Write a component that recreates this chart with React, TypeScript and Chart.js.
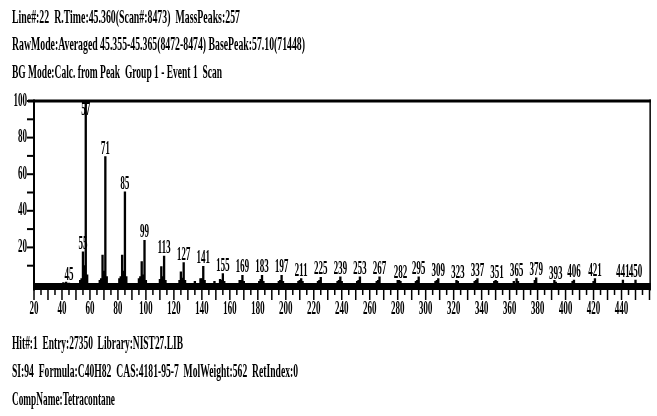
import React, { useEffect, useLayoutEffect, useRef } from "react";
import { Chart, registerables } from "chart.js";

Chart.register(...registerables);

// ---------- content ----------
const headerLines = [
  "Line#:22  R.Time:45.360(Scan#:8473)  MassPeaks:257",
  "RawMode:Averaged 45.355-45.365(8472-8474) BasePeak:57.10(71448)",
  "BG Mode:Calc. from Peak  Group 1 - Event 1  Scan",
];
const footerLines = [
  "Hit#:1  Entry:27350  Library:NIST27.LIB",
  "SI:94  Formula:C40H82  CAS:4181-95-7  MolWeight:562  RetIndex:0",
  "CompName:Tetracontane",
];

// m/z values and relative intensities (%)
const massValues = [
  41, 43, 45, 53, 54, 55, 56, 57, 58,
  67, 68, 69, 70, 71, 72,
  81, 82, 83, 84, 85, 86,
  95, 96, 97, 98, 99, 100,
  110, 111, 112, 113, 114,
  124, 125, 126, 127, 128, 135,
  139, 140, 141, 142, 149,
  153, 154, 155, 156,
  167, 168, 169, 170,
  181, 182, 183, 184,
  195, 196, 197, 198,
  209, 210, 211, 212,
  223, 224, 225,
  237, 238, 239, 240,
  251, 252, 253,
  265, 266, 267,
  280, 281, 282,
  293, 294, 295,
  307, 308, 309,
  322, 323,
  335, 336, 337,
  349, 350, 351,
  363, 365, 366,
  378, 379,
  392, 393,
  405, 406,
  420, 421,
  441, 450,
];
const intensityValues = [
  0.8, 1.0, 0.5, 2, 3, 17.6, 10, 100, 5,
  2, 3, 15.8, 7, 69.6, 4,
  3, 4, 15.8, 7, 50.4, 4,
  3, 4, 12.2, 5, 23.8, 2,
  2.5, 9.5, 4, 15.3, 2,
  2, 6.7, 3.3, 11.7, 2, 1.5,
  3, 3, 9.6, 2, 1.5,
  2.5, 2, 5.7, 1.5,
  2, 2, 4.8, 1.5,
  1.5, 2.5, 4.8, 1.5,
  1.5, 2, 4.8, 1.5,
  1.5, 2, 3.0, 1.5,
  1.5, 2, 3.6,
  1.5, 2, 3.9, 1.5,
  1.5, 2, 3.9,
  1.5, 2, 3.9,
  2, 2, 1.5,
  1.5, 2, 3.9,
  1.5, 2, 3.0,
  2, 1.5,
  1.5, 2, 3.0,
  1.5, 2, 1.5,
  1.5, 3.0, 1.5,
  2, 3.4,
  2, 1,
  1.5, 2.1,
  1.5, 3.0,
  2.1, 2.1,
];
const labeledMasses = [
  45, 55, 57, 71, 85, 99, 113, 127, 141, 155, 169, 183, 197, 211, 225, 239,
  253, 267, 282, 295, 309, 323, 337, 351, 365, 379, 393, 406, 421, 441, 450,
];

const X_MIN = 20;
const X_MAX = 461;
const X_LABEL_STEP = 20;
const X_LABEL_LAST = 440;
const Y_MIN = 0;
const Y_MAX = 100;

// ---------- layout / style ----------
const W = 657;
const H = 416;
const SQUEEZE = 2; // canvas drawn twice as wide, shown compressed (condensed type)
const FONT = '"Liberation Serif", "Times New Roman", serif';
const headerTops = [8, 35, 63];
const headerWidths = [228, 293, 210];
const footerTops = [334, 362, 390];
const footerWidths = [171, 286, 103];

function TextLine({ text, top, width }: { text: string; top: number; width: number }) {
  const ref = useRef<HTMLDivElement>(null);
  useLayoutEffect(() => {
    const el = ref.current;
    if (!el) return;
    el.style.transform = "none";
    const w = el.getBoundingClientRect().width;
    if (w > 0) el.style.transform = `scaleX(${width / w})`;
  }, [text, width]);
  return (
    <div
      ref={ref}
      style={{
        position: "absolute",
        left: 12,
        top,
        whiteSpace: "pre",
        font: `bold 18px ${FONT}`,
        lineHeight: "18px",
        transformOrigin: "0 0",
        color: "#000",
      }}
    >
      {text}
    </div>
  );
}

const framePlugin = {
  id: "specFrame",
  afterDatasetsDraw(chart: any) {
    const { ctx, chartArea, scales } = chart;
    const { left, right, top } = chartArea;
    const x = scales.x;
    const y = scales.y;
    const y0 = y.getPixelForValue(0);
    ctx.save();
    ctx.fillStyle = "#000";
    // thick base line
    ctx.fillRect(left, y0 - 1, right - left, 7);
    // top border
    ctx.fillRect(left - 12, top - 1.5, right - left + 12, 3);
    // left axis
    ctx.fillRect(left - 2, top - 1.5, 4, y0 - top + 8);
    // right border
    ctx.fillRect(right - 3, top - 1.5, 3, y0 - top + 8);
    // x ticks
    for (let v = Math.ceil(x.min / 5) * 5; v <= x.max; v += 5) {
      const px = x.getPixelForValue(v);
      const len = v % 10 === 0 ? 10 : 5;
      ctx.fillRect(px - 1.5, y0 + 6, 3, len);
    }
    // y ticks
    for (let v = 10; v <= y.max; v += 10) {
      const py = y.getPixelForValue(v);
      ctx.fillRect(left - 14, py - 1, 14, 2);
    }
    // peak labels
    const meta = chart.getDatasetMeta(0);
    ctx.font = `bold 18px ${FONT}`;
    ctx.textAlign = "center";
    ctx.textBaseline = "alphabetic";
    labeledMasses.forEach((m) => {
      const i = massValues.indexOf(m);
      const el = meta.data[i];
      if (!el) return;
      const yy = Math.max(el.y - 3, top + 14);
      ctx.fillText(String(m), el.x, yy);
    });
    ctx.restore();
  },
};

export default function App() {
  const canvasRef = useRef<HTMLCanvasElement>(null);

  useEffect(() => {
    const canvas = canvasRef.current;
    if (!canvas) return;
    const tickFont = { family: FONT, size: 18, weight: "bold" as const };
    const chart = new Chart(canvas, {
      type: "bar",
      data: {
        datasets: [
          {
            data: massValues.map((m, i) => ({ x: m, y: intensityValues[i] })),
            backgroundColor: "#000",
            borderWidth: 0,
            barThickness: 4,
          },
        ],
      },
      options: {
        responsive: false,
        devicePixelRatio: 1,
        animation: false,
        events: [],
        layout: { padding: { top: 101, bottom: 92, left: 0, right: 2 } },
        plugins: { legend: { display: false }, tooltip: { enabled: false }, title: { display: false } },
        scales: {
          x: {
            type: "linear",
            min: X_MIN,
            max: X_MAX,
            offset: false,
            grid: { display: false, drawTicks: false, offset: false },
            border: { display: false },
            ticks: {
              stepSize: X_LABEL_STEP,
              includeBounds: false,
              autoSkip: false,
              maxRotation: 0,
              padding: 15,
              color: "#000",
              font: tickFont,
              callback: (v: any) => (v <= X_LABEL_LAST ? String(v) : ""),
            },
            afterFit: (s: any) => {
              s.height = 40;
            },
          },
          y: {
            min: Y_MIN,
            max: Y_MAX,
            grid: { display: false, drawTicks: false },
            border: { display: false },
            ticks: {
              stepSize: 10,
              autoSkip: false,
              padding: 14,
              color: "#000",
              font: tickFont,
              callback: (v: any) => (v > 0 && v % 20 === 0 ? String(v) : ""),
            },
            afterFit: (s: any) => {
              s.width = 68;
            },
          },
        },
      } as any,
      plugins: [framePlugin],
    });
    return () => chart.destroy();
  }, []);

  return (
    <div
      style={{
        position: "absolute",
        left: 0,
        top: 0,
        width: W,
        height: H,
        overflow: "hidden",
        background: "#fff",
      }}
    >
      <canvas
        ref={canvasRef}
        width={W * SQUEEZE}
        height={H}
        style={{ position: "absolute", left: 0, top: 0, width: W, height: H }}
      />
      {headerLines.map((t, i) => (
        <TextLine key={"h" + i} text={t} top={headerTops[i]} width={headerWidths[i]} />
      ))}
      {footerLines.map((t, i) => (
        <TextLine key={"f" + i} text={t} top={footerTops[i]} width={footerWidths[i]} />
      ))}
    </div>
  );
}
